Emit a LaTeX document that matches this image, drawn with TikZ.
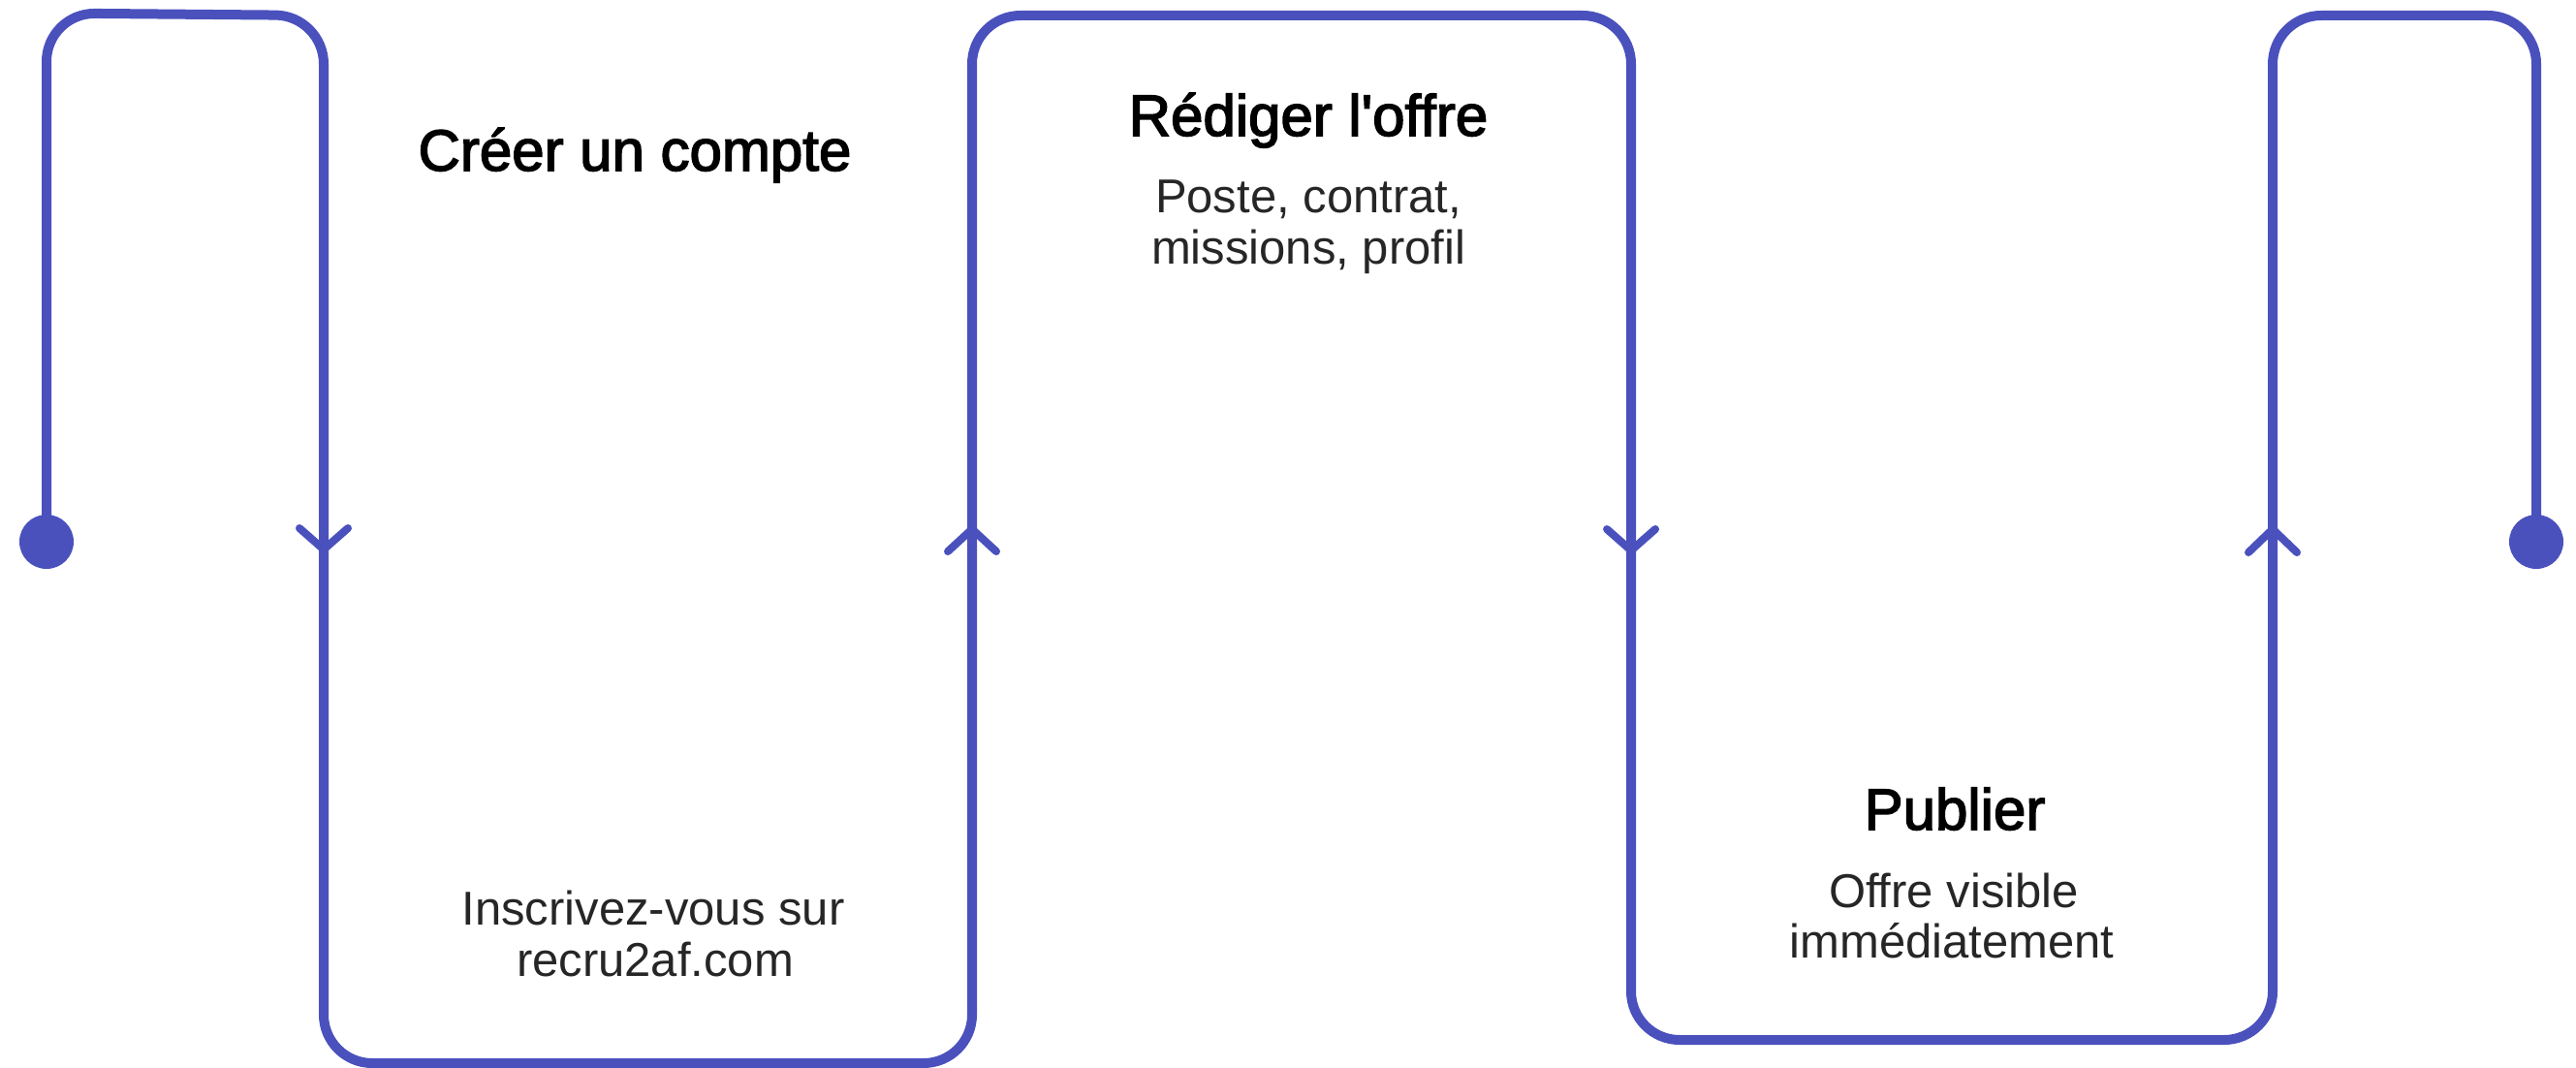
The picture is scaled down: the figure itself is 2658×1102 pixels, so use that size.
\documentclass[tikz,border=0pt]{standalone}
\usepackage{fontspec}
\usetikzlibrary{calc}
\setmainfont{Liberation Sans}
\newfontfamily\titlefont[FakeBold=2.5]{Liberation Sans}
\definecolor{flow}{HTML}{4A51BD}
\definecolor{subgray}{HTML}{262626}
\begin{document}
\begin{tikzpicture}[x=1pt,y=-1pt,
  flowline/.style={draw=flow, line width=10pt, rounded corners=50pt, line join=round},
  chev/.style={draw=flow, line width=8pt, line cap=round, line join=round},
  enddot/.style={circle, fill=flow, inner sep=0pt, minimum size=56pt},
  title/.style={inner sep=0pt, anchor=base, text=black, font=\titlefont\fontsize{60}{72}\selectfont},
  sub/.style={inner sep=0pt, anchor=base, text=subgray, font=\fontsize{49}{59}\selectfont}]
\useasboundingbox (0,0) rectangle (2658,1102);

% route corners
\coordinate (p0) at (48,559);
\coordinate (p1) at (48,13.5);
\coordinate (p2) at (334,16);
\coordinate (p3) at (334,1097);
\coordinate (p4) at (1003,1097);
\coordinate (p5) at (1003,16);
\coordinate (p6) at (1683,16);
\coordinate (p7) at (1683,1073);
\coordinate (p8) at (2345,1073);
\coordinate (p9) at (2345,16);
\coordinate (p10) at (2617,16);
\coordinate (p11) at (2617,559);

\draw[flowline] (p0) -- (p1) -- (p2) -- (p3) -- (p4) -- (p5) -- (p6) -- (p7) -- (p8) -- (p9) -- (p10) -- (p11);

\node[enddot] (start) at (p0) {};
\node[enddot] (finish) at (p11) {};

% chevrons
\coordinate (c1) at (334,567);
\coordinate (c2) at (1003,546);
\coordinate (c3) at (1683,568);
\coordinate (c4) at (2345,546);
\draw[chev] ($(c1)+(-25,-22)$) -- (c1) -- ($(c1)+(25,-22)$);
\draw[chev] ($(c2)+(-25,23)$) -- (c2) -- ($(c2)+(25,23)$);
\draw[chev] ($(c3)+(-25,-22)$) -- (c3) -- ($(c3)+(25,-22)$);
\draw[chev] ($(c4)+(-25,24)$) -- (c4) -- ($(c4)+(25,24)$);

% texts
\node[title] (t1) at (655,176) {Créer un compte};
\node[sub] (s1a) at (674,954) {Inscrivez-vous sur};
\node[sub] (s1b) at (676,1007) {recru2af.com};

\node[title] (t2) at (1350,140) {Rédiger l'offre};
\node[sub] (s2a) at (1350,219) {Poste, contrat,};
\node[sub] (s2b) at (1350,272) {missions, profil};

\node[title] (t3) at (2017,856) {Publier};
\node[sub] (s3a) at (2016,936) {Offre visible};
\node[sub] (s3b) at (2014,988) {immédiatement};
\end{tikzpicture}
\end{document}
